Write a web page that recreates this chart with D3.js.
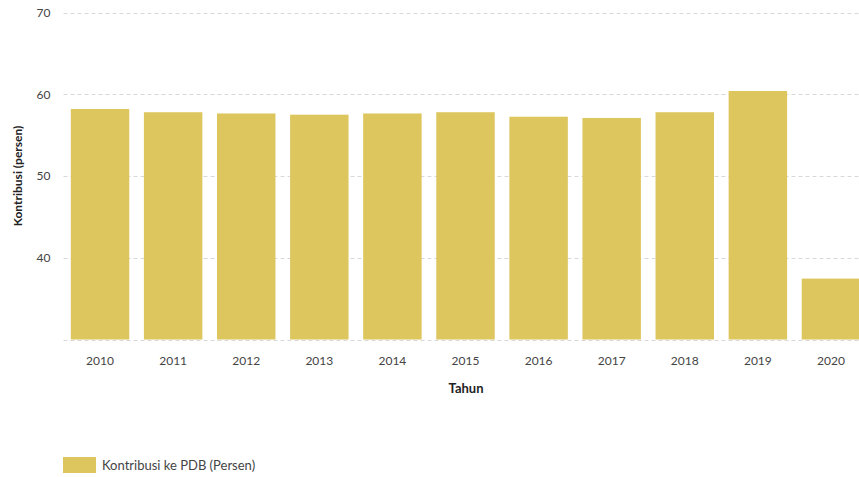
<!DOCTYPE html>
<html><head><meta charset="utf-8">
<script src="https://cdn.jsdelivr.net/npm/d3@7"></script>
<style>
html,body{margin:0;padding:0;background:#fff;overflow:hidden}
svg{display:block;font-family:Lato,"Open Sans",sans-serif}
</style></head><body>
<svg id="chart" width="859" height="477"></svg>
<script>
const years = ["2010","2011","2012","2013","2014","2015","2016","2017","2018","2019","2020"];
const values = [58.2, 57.8, 57.65, 57.5, 57.65, 57.8, 57.25, 57.1, 57.8, 60.4, 37.45];
const yTicks = [40, 50, 60, 70];
const seriesName = "Kontribusi ke PDB (Persen)";
const barColor = "#dec65f";

const svg = d3.select("#chart");
const mLeft = 63.5, mRight = 867.5, mTop = 12.5, mBottom = 339.5;

const x = d3.scaleBand().domain(years).range([mLeft, mRight]).paddingInner(0.2).paddingOuter(0.1);
const y = d3.scaleLinear().domain([30, 70]).range([mBottom, mTop]);

// gridlines
svg.append("g").selectAll("line").data(yTicks.concat([30])).join("line")
  .attr("x1", mLeft).attr("x2", 859)
  .attr("y1", d => Math.round(y(d)) + 0.5).attr("y2", d => Math.round(y(d)) + 0.5)
  .attr("stroke", "#d8d8d8").attr("stroke-width", 1).attr("stroke-dasharray", "4,3");

// bars
svg.append("g").selectAll("rect").data(years).join("rect")
  .attr("x", d => x(d))
  .attr("width", x.bandwidth())
  .attr("y", (d, i) => y(values[i]))
  .attr("height", (d, i) => y(30) - y(values[i]))
  .attr("fill", barColor);

// y axis labels
const yAxis = d3.axisLeft(y).tickValues(yTicks).tickSize(0).tickPadding(13);
const gy = svg.append("g").attr("transform", `translate(${mLeft},0)`).call(yAxis);
gy.select(".domain").remove();
gy.selectAll("text").attr("fill", "#444").attr("font-size", 12).attr("font-family", "Lato, sans-serif");

// x axis labels
const xAxis = d3.axisBottom(x).tickSize(0).tickPadding(17);
const gx = svg.append("g").attr("transform", `translate(0,${mBottom})`).call(xAxis);
gx.select(".domain").remove();
gx.selectAll("text").attr("fill", "#444").attr("font-size", 12).attr("font-family", "Lato, sans-serif");

// axis titles
svg.append("text").attr("x", 466).attr("y", 393).attr("text-anchor", "middle")
  .attr("font-size", 13).attr("font-weight", "bold").attr("fill", "#222").text("Tahun");
svg.append("text").attr("transform", "translate(22,176) rotate(-90)").attr("text-anchor", "middle")
  .attr("font-size", 12).attr("font-weight", "bold").attr("fill", "#222").text("Kontribusi (persen)");

// legend
const lg = svg.append("g").attr("transform", "translate(63,457)");
lg.append("rect").attr("width", 33).attr("height", 16).attr("fill", barColor);
lg.append("text").attr("x", 39).attr("y", 12.5).attr("font-size", 13).attr("fill", "#444").text(seriesName);
</script>
</body></html>
